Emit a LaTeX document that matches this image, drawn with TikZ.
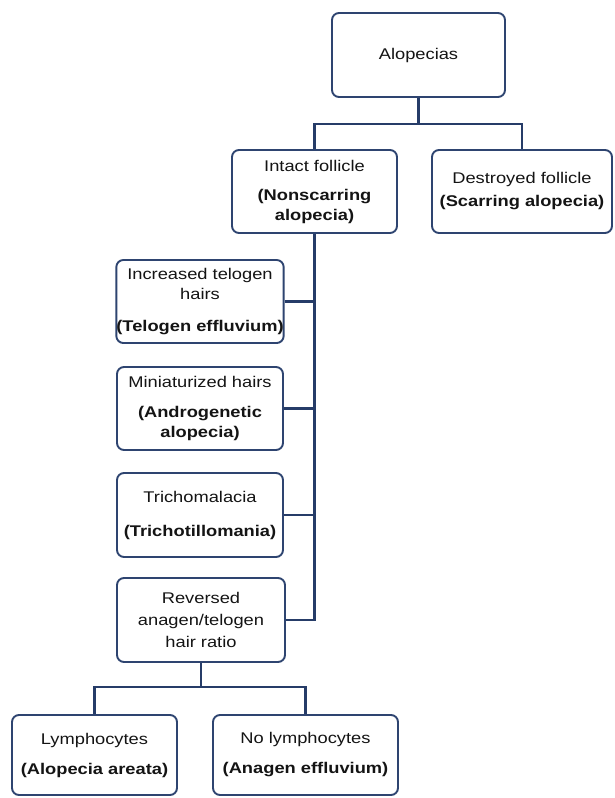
\documentclass[tikz,border=0pt]{standalone}
\usepackage{fontspec}
\setmainfont[FakeStretch=1.18]{Liberation Sans}
\definecolor{boxcol}{RGB}{46,68,112}
\definecolor{linecol}{RGB}{38,60,104}
\definecolor{textcol}{RGB}{20,20,20}
\begin{document}
\begin{tikzpicture}[x=1pt,y=-1pt,
  box/.style={draw=boxcol, line width=1.9pt, rounded corners=7pt, fill=white,
    align=center, inner sep=0pt, text=textcol, font=\fontsize{15.5}{20}\selectfont},
  link/.style={draw=linecol, line width=2.3pt}]
\useasboundingbox (0,0) rectangle (615,798);
\fill[white] (0,0) rectangle (615,798);

\node[box, minimum width=173pt, minimum height=84pt] (alop) at (418.5,55) {Alopecias};
\node[box, minimum width=165pt, minimum height=83pt] (intact) at (314.5,191.5)
  {Intact follicle\\[9pt]\textbf{(Nonscarring}\\\textbf{alopecia)}};
\node[box, minimum width=180pt, minimum height=83pt] (dest) at (522,191.5)
  {Destroyed follicle\\[3pt]\textbf{(Scarring alopecia)}};
\node[box, minimum width=166pt, minimum height=83pt] (tel) at (200,301.5)
  {Increased telogen\\hairs\\[12pt]\textbf{(Telogen effluvium)}};
\node[box, minimum width=166pt, minimum height=83pt] (mini) at (200,408.5)
  {Miniaturized hairs\\[10pt]\textbf{(Androgenetic}\\\textbf{alopecia)}};
\node[box, minimum width=166pt, minimum height=84pt] (tri) at (200,515)
  {Trichomalacia\\[14pt]\textbf{(Trichotillomania)}};
\node[box, minimum width=168pt, minimum height=84pt, font=\fontsize{15.5}{22}\selectfont] (rev) at (201,620)
  {Reversed\\anagen/telogen\\hair ratio};
\node[box, minimum width=165pt, minimum height=80pt] (lym) at (94.5,755)
  {Lymphocytes\\[10pt]\textbf{(Alopecia areata)}};
\node[box, minimum width=185pt, minimum height=80pt] (nolym) at (305.5,755)
  {No lymphocytes\\[10pt]\textbf{(Anagen effluvium)}};

\coordinate (j1) at ([yshift=-26pt]alop.south);
\coordinate (j2) at ([yshift=-24pt]rev.south);

\draw[link] (alop.south) -- (j1);
\draw[link] (j1) -| (intact.north);
\draw[link] (j1) -| (dest.north);

\draw[link] (intact.south) |- (rev.east);
\draw[link] (tel.east) -- (tel.east -| intact.south);
\draw[link] (mini.east) -- (mini.east -| intact.south);
\draw[link] (tri.east) -- (tri.east -| intact.south);

\draw[link] (rev.south) -- (j2);
\draw[link] (j2) -| (lym.north);
\draw[link] (j2) -| (nolym.north);
\end{tikzpicture}
\end{document}
